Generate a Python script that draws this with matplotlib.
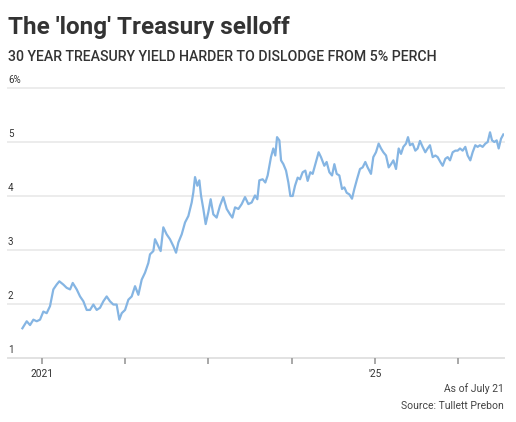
import matplotlib
matplotlib.use("Agg")
import matplotlib.pyplot as plt
import matplotlib.transforms as mtransforms

# 30-year Treasury yield (%); x in decimal years
years = [
    2020.764, 2020.816, 2020.856, 2020.896, 2020.936, 2020.976, 2021.016, 2021.056,
    2021.096, 2021.136, 2021.176, 2021.208, 2021.256, 2021.296, 2021.337, 2021.369,
    2021.417, 2021.457, 2021.497, 2021.537, 2021.577, 2021.617, 2021.657, 2021.697,
    2021.737, 2021.777, 2021.817, 2021.857, 2021.897, 2021.929, 2021.958, 2021.998,
    2022.038, 2022.078, 2022.118, 2022.158, 2022.198, 2022.238, 2022.278, 2022.298,
    2022.338, 2022.358, 2022.398, 2022.426, 2022.458, 2022.498, 2022.538, 2022.579,
    2022.611, 2022.639, 2022.679, 2022.719, 2022.759, 2022.799, 2022.819, 2022.839,
    2022.867, 2022.891, 2022.911, 2022.939, 2022.967, 2022.999, 2023.027, 2023.059,
    2023.099, 2023.139, 2023.179, 2023.220, 2023.260, 2023.288, 2023.320, 2023.360,
    2023.400, 2023.440, 2023.480, 2023.520, 2023.560, 2023.588, 2023.612,
    2023.652, 2023.684, 2023.712, 2023.752, 2023.780, 2023.804, 2023.825, 2023.853,
    2023.873, 2023.901, 2023.933, 2023.961, 2023.985, 2024.013, 2024.041, 2024.073,
    2024.101, 2024.133, 2024.165, 2024.193, 2024.225, 2024.253, 2024.293, 2024.325,
    2024.353, 2024.393, 2024.421, 2024.454, 2024.486, 2024.514, 2024.542, 2024.574,
    2024.606, 2024.634, 2024.662, 2024.694, 2024.726, 2024.754, 2024.786, 2024.822,
    2024.854, 2024.886, 2024.914, 2024.954, 2024.982, 2025.014, 2025.046, 2025.075,
    2025.103, 2025.135, 2025.167, 2025.195, 2025.223, 2025.255, 2025.287, 2025.315,
    2025.343, 2025.375, 2025.399, 2025.423, 2025.455, 2025.487, 2025.515, 2025.543,
    2025.575, 2025.607, 2025.635, 2025.663, 2025.696, 2025.728, 2025.756, 2025.788,
    2025.816, 2025.848, 2025.876, 2025.904, 2025.936, 2025.968, 2025.996, 2026.024,
    2026.056, 2026.088, 2026.116, 2026.148, 2026.176, 2026.208, 2026.236, 2026.264,
    2026.296, 2026.329, 2026.357, 2026.385, 2026.409, 2026.437, 2026.465, 2026.489,
    2026.517, 2026.545,
]
yields = [
    1.55, 1.68, 1.61, 1.71, 1.68, 1.71, 1.86, 1.83,
    1.96, 2.27, 2.36, 2.42, 2.36, 2.30, 2.27, 2.39,
    2.27, 2.14, 2.05, 1.89, 1.89, 1.99, 1.89, 1.93,
    2.05, 2.14, 2.05, 1.99, 1.99, 1.71, 1.83, 1.89,
    2.08, 2.14, 2.33, 2.17, 2.45, 2.58, 2.76, 2.92,
    2.98, 3.20, 3.07, 2.98, 3.42, 3.29, 3.20, 3.07,
    2.95, 3.14, 3.29, 3.51, 3.63, 3.88, 4.07, 4.35,
    4.19, 4.29, 4.01, 3.76, 3.48, 3.70, 3.94, 3.66,
    3.60, 3.82, 3.98, 3.76, 3.66, 3.60, 3.79, 3.76,
    3.85, 3.98, 3.85, 3.88, 4.01, 3.94, 4.29,
    4.31, 4.25, 4.38, 4.72, 4.88, 4.75, 5.09, 5.03,
    4.66, 4.59, 4.47, 4.25, 4.00, 4.00, 4.19, 4.34,
    4.31, 4.44, 4.47, 4.28, 4.44, 4.41, 4.63, 4.81,
    4.72, 4.56, 4.63, 4.44, 4.38, 4.59, 4.41, 4.38,
    4.13, 4.16, 4.06, 4.03, 3.95, 4.13, 4.31, 4.50,
    4.53, 4.63, 4.53, 4.41, 4.72, 4.81, 4.97, 4.88,
    4.81, 4.75, 4.53, 4.59, 4.66, 4.50, 4.88, 4.78,
    4.91, 4.97, 5.09, 4.94, 4.97, 4.84, 4.88, 5.02,
    4.91, 4.81, 4.88, 4.94, 4.72, 4.75, 4.72, 4.63,
    4.56, 4.69, 4.72, 4.66, 4.81, 4.84, 4.84, 4.88,
    4.84, 4.91, 4.75, 4.66, 4.81, 4.94, 4.91, 4.94,
    4.91, 4.97, 5.00, 5.18, 5.03, 5.00, 5.03, 4.88,
    5.06, 5.14,
]

y_ticks = [1, 2, 3, 4, 5, 6]
y_labels = ["1", "2", "3", "4", "5", "6%"]
x_ticks = [2021, 2022, 2023, 2024, 2025, 2026]
x_labels = ["2021", "", "", "", "'25", ""]

title = "The 'long' Treasury selloff"
subtitle = "30 YEAR TREASURY YIELD HARDER TO DISLODGE FROM 5% PERCH"
note = "As of July 21"
source = "Source: Tullett Prebon"

FONT = ["Roboto", "DejaVu Sans"]
TEXT = "#333333"

W, H = 516, 422
fig = plt.figure(figsize=(W / 100, H / 100), dpi=100)
ax = fig.add_axes([8 / W, 1 - 358 / H, 496 / W, 270 / H])

ax.plot(years, yields, color="#85b5e3", lw=1.6, solid_joinstyle="round", zorder=3)

ax.set_xlim(2020.591, 2026.553)
ax.set_ylim(1, 6)

for s in ax.spines.values():
    s.set_visible(False)
for v in y_ticks[1:]:
    ax.axhline(v, color="#ececec", lw=1.4, zorder=1, clip_on=False)
ax.axhline(1, color="#e2e2e2", lw=1.4, zorder=1, clip_on=False)

ax.set_yticks([])
ax.set_xticks(x_ticks)
ax.set_xticklabels(x_labels, fontfamily=FONT, fontsize=7.3, color=TEXT)
ax.tick_params(axis="x", length=4, width=1.2, color="#9a9a9a", pad=4)

# y labels sit just above each gridline, flush left
trans = mtransforms.blended_transform_factory(ax.transAxes, ax.transData)
offset = mtransforms.ScaledTranslation(0, 2.5 / 72, fig.dpi_scale_trans)
for v, lab in zip(y_ticks, y_labels):
    ax.text(0, v, lab, transform=trans + offset, ha="left", va="bottom",
            fontfamily=FONT, fontsize=7, color=TEXT, clip_on=False)

fig.text(8 / W, 1 - 34 / H, title, fontfamily=FONT, fontweight="bold",
         fontsize=17.5, color=TEXT, ha="left", va="baseline")
fig.text(8 / W, 1 - 61 / H, subtitle, fontfamily=FONT, fontweight="medium",
         fontsize=10.2, color=TEXT, ha="left", va="baseline")
fig.text(504 / W, 1 - 392 / H, note, fontfamily=FONT, fontsize=7.5,
         color="#444444", ha="right", va="baseline")
fig.text(504 / W, 1 - 409 / H, source, fontfamily=FONT, fontsize=7.5,
         color="#444444", ha="right", va="baseline")

fig.savefig("out.png", dpi=100, facecolor="white")
